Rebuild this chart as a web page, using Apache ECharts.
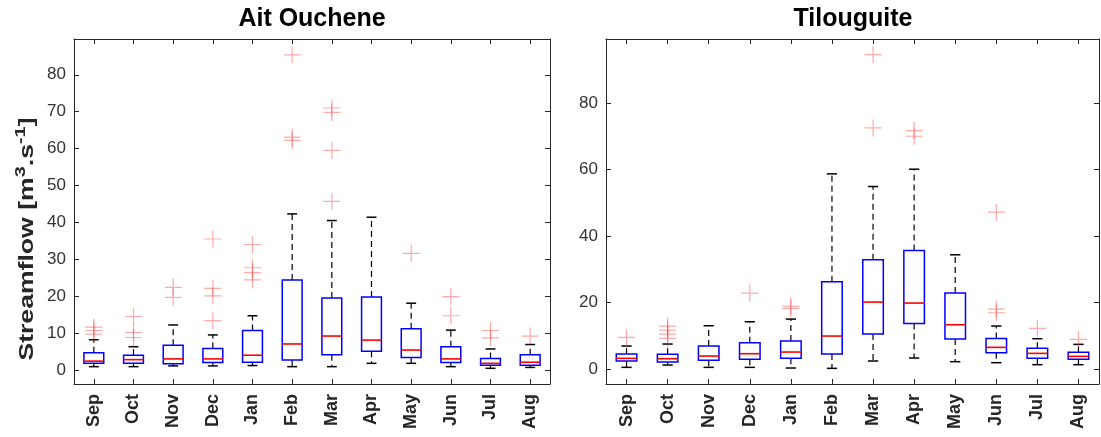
<!DOCTYPE html>
<html>
<head>
<meta charset="utf-8">
<script src="https://cdn.jsdelivr.net/npm/echarts@6/dist/echarts.min.js"></script>
<style>
html,body{margin:0;padding:0;background:#fff;}
#chart{width:1101px;height:437px;}
</style>
</head>
<body>
<div id="chart"></div>
<script>
// ---------------- DATA ----------------
const categories = ['Sep','Oct','Nov','Dec','Jan','Feb','Mar','Apr','May','Jun','Jul','Aug'];

// Ait Ouchene
const aitLow  = [0.9, 0.9, 1.1, 1.1, 1.2, 0.9, 0.9, 1.8, 1.8, 0.9, 0.45, 0.7];
const aitQ1   = [1.8, 1.8, 1.7, 2.0, 2.1, 2.7, 4.1, 5.1, 3.4, 2.0, 1.3, 1.3];
const aitMed  = [2.4, 2.8, 3.0, 3.0, 4.0, 7.05, 9.2, 8.1, 5.4, 3.0, 1.8, 2.1];
const aitQ3   = [4.7, 4.0, 6.7, 5.8, 10.7, 24.4, 19.5, 19.8, 11.2, 6.3, 3.1, 4.1];
const aitHigh = [8.2, 6.3, 12.2, 9.5, 14.7, 42.3, 40.5, 41.4, 18.1, 10.8, 5.7, 6.9];
const aitOutliers = [[11.6,10.7,9.7],[14.5,10.2,8.8],[22.4,19.7],[35.5,22.1,20.1,13.4],[34.0,27.7,26.4,24.4],[85.4,63.1,62.2],[71.0,69.8,59.5,45.7],[],[31.6],[19.9,14.7],[10.7,8.7],[9.2]];

// Tilouguite
const tilLow  = [0.6, 1.3, 0.6, 0.6, 0.4, 0.3, 2.5, 3.4, 2.3, 2.0, 1.4, 1.4];
const tilQ1   = [2.5, 2.2, 2.7, 3.0, 3.3, 4.6, 10.6, 13.8, 9.1, 5.0, 3.3, 3.0];
const tilMed  = [3.3, 3.2, 4.0, 4.7, 5.2, 10.0, 20.2, 19.9, 13.4, 6.6, 4.8, 3.9];
const tilQ3   = [4.6, 4.5, 7.0, 8.0, 8.5, 26.3, 32.9, 35.7, 22.9, 9.3, 6.3, 5.1];
const tilHigh = [7.0, 7.6, 13.1, 14.3, 15.1, 58.7, 54.9, 60.1, 34.4, 13.0, 9.2, 7.5];
const tilOutliers = [[9.6],[13.0,11.8,10.6,9.3],[],[22.9],[19.0,18.3],[],[94.5,72.5],[71.7,70.0],[],[47.2,18.1,17.0],[12.3],[9.0]];

const leftTicks = [0,10,20,30,40,50,60,70,80];
const rightTicks = [0,20,40,60,80];

// ---------------- BUILD ----------------
function boxData(lo,q1,med,q3,hi){
  return categories.map((c,i)=>[i, lo[i], q1[i], med[i], q3[i], hi[i]]);
}
function outlierData(arr){
  const out=[];
  arr.forEach((vals,i)=>vals.forEach(v=>out.push([i,v])));
  return out;
}
function renderBox(params, api){
  const x = api.value(0);
  const lo = api.coord([x, api.value(1)]);
  const q1 = api.coord([x, api.value(2)]);
  const md = api.coord([x, api.value(3)]);
  const q3 = api.coord([x, api.value(4)]);
  const hi = api.coord([x, api.value(5)]);
  const band = api.size([1,0])[0];
  const bw = band*0.5, cw = band*0.25;
  const cx = lo[0];
  const dash = {stroke:'#000', lineWidth:1.2, lineDash:[6,4], fill:null};
  const solid = {stroke:'#000', lineWidth:1.5, fill:null};
  return {type:'group', children:[
    {type:'line', shape:{x1:cx,y1:q3[1],x2:cx,y2:hi[1]}, style:dash},
    {type:'line', shape:{x1:cx,y1:q1[1],x2:cx,y2:lo[1]}, style:dash},
    {type:'line', shape:{x1:cx-cw/2,y1:hi[1],x2:cx+cw/2,y2:hi[1]}, style:solid},
    {type:'line', shape:{x1:cx-cw/2,y1:lo[1],x2:cx+cw/2,y2:lo[1]}, style:solid},
    {type:'rect', shape:{x:cx-bw/2, y:q3[1], width:bw, height:q1[1]-q3[1]}, style:{fill:'none', stroke:'#0000ff', lineWidth:1.5}},
    {type:'line', shape:{x1:cx-bw/2,y1:md[1],x2:cx+bw/2,y2:md[1]}, style:{stroke:'#ff0000', lineWidth:1.6}}
  ]};
}

const FONT = '"Liberation Sans", Arial, Helvetica, sans-serif';
const axisColor = '#262626';

function xAx(grid, pos){
  const bottom = pos==='bottom';
  return {
    gridIndex:grid, type:'category', data:categories, position:pos, boundaryGap:true,
    axisLine:{show:true, onZero:false, lineStyle:{color:axisColor, width:1}},
    axisTick:{show:true, inside:true, length:5, alignWithLabel:true, lineStyle:{color:axisColor}},
    axisLabel:{show:bottom, rotate:90, margin:10, fontSize:18, fontWeight:'bold', color:axisColor, fontFamily:FONT},
    splitLine:{show:false}
  };
}
function yAx(grid, pos, min, max, ticks){
  const left = pos==='left';
  return {
    gridIndex:grid, type:'value', position:pos, min:min, max:max,
    axisLine:{show:true, onZero:false, lineStyle:{color:axisColor, width:1}},
    axisTick:{show:true, inside:true, length:5, customValues:ticks, lineStyle:{color:axisColor}},
    axisLabel:{show:left, customValues:ticks, margin:8, fontSize:17, color:'#333', fontFamily:FONT},
    splitLine:{show:false}
  };
}

const crossSymbol = 'path://M5,0 L5,10 M0,5 L10,5';
function outlierSeries(xi, yi, data){
  return {type:'scatter', xAxisIndex:xi, yAxisIndex:yi, data:data, symbol:crossSymbol, symbolSize:17,
    itemStyle:{color:'rgba(0,0,0,0)', borderColor:'rgba(255,60,60,0.55)', borderWidth:1.2}, silent:true, z:3};
}

const option = {
  animation:false,
  backgroundColor:'#fff',
  grid:[
    {left:74, top:39, width:476, height:345},
    {left:606, top:39, width:493, height:345}
  ],
  xAxis:[xAx(0,'bottom'), xAx(1,'bottom'), xAx(0,'top'), xAx(1,'top')],
  yAxis:[yAx(0,'left',-3.8,89.7,leftTicks), yAx(1,'left',-4.4,99.2,rightTicks), yAx(0,'right',-3.8,89.7,leftTicks), yAx(1,'right',-4.4,99.2,rightTicks)],
  series:[
    {type:'custom', xAxisIndex:0, yAxisIndex:0, data:boxData(aitLow,aitQ1,aitMed,aitQ3,aitHigh), encode:{x:0, y:[1,2,3,4,5]}, renderItem:renderBox, silent:true},
    {type:'custom', xAxisIndex:1, yAxisIndex:1, data:boxData(tilLow,tilQ1,tilMed,tilQ3,tilHigh), encode:{x:0, y:[1,2,3,4,5]}, renderItem:renderBox, silent:true},
    outlierSeries(0,0,outlierData(aitOutliers)),
    outlierSeries(1,1,outlierData(tilOutliers))
  ],
  graphic:[
    {type:'text', x:312, y:19, style:{text:'Ait Ouchene', font:'bold 25px '+FONT, fill:'#000', align:'center', verticalAlign:'middle'}},
    {type:'text', x:853, y:19, style:{text:'Tilouguite', font:'bold 25px '+FONT, fill:'#000', align:'center', verticalAlign:'middle'}},
    {type:'text', x:27, y:239, rotation:Math.PI/2, scaleX:1.33, style:{
      text:'{b|Streamflow [m}{s|3}{b|.s}{s|-1}{b|]}',
      align:'center', verticalAlign:'middle',
      rich:{
        b:{fontSize:20, fontWeight:'bold', fontFamily:FONT, fill:'#262626', lineHeight:28},
        s:{fontSize:15, fontWeight:'bold', fontFamily:FONT, fill:'#262626', verticalAlign:'top', lineHeight:15}
      }
    }}
  ]
};

const chart = echarts.init(document.getElementById('chart'), null, {renderer:'canvas'});
chart.setOption(option);
</script>
</body>
</html>
